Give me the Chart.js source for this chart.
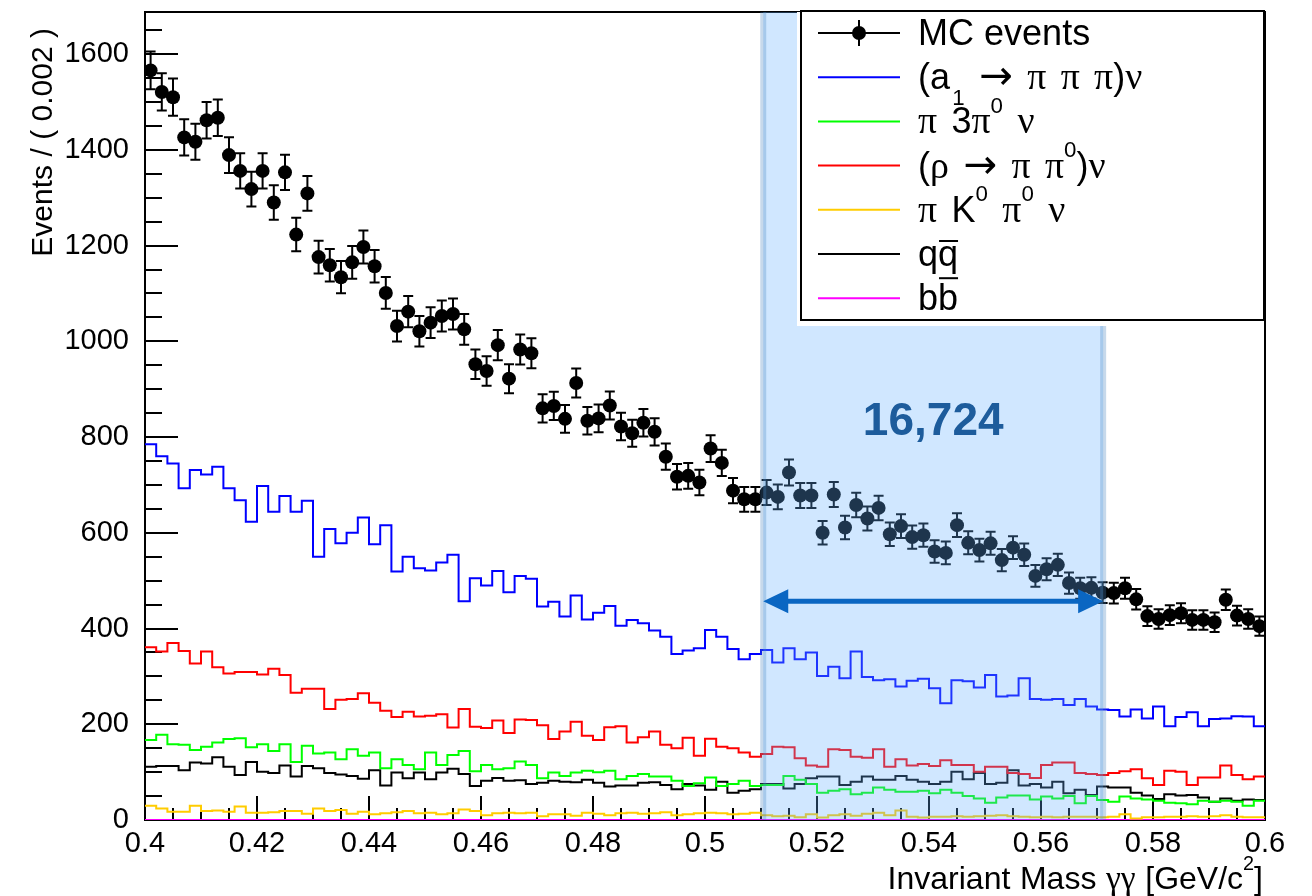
<!DOCTYPE html>
<html>
<head>
<meta charset="utf-8">
<title>Invariant Mass</title>
<script src="https://cdn.jsdelivr.net/npm/chart.js@4.4.0/dist/chart.umd.min.js"></script>
<style>
  html, body { margin: 0; padding: 0; background: #fff; }
</style>
</head>
<body>
<canvas id="massChart" width="1312" height="896"></canvas>
<script>
// Binning: 100 bins of 0.002 GeV/c^2 from 0.4 to 0.6
var xMin = 0.4;
var xMax = 0.6;
var binWidth = 0.002;
var nBins = 100;
var binEdges = [];
for (var i = 0; i <= nBins; i++) binEdges.push(+(xMin + i * binWidth).toFixed(3));

// MC events per bin
var mcEvents = [
    1566, 1521, 1510, 1426, 1417, 1462, 1467, 1389, 1356, 1318, 1356, 1290, 1353, 1223, 1309, 1176, 1159, 1134, 1165, 1197,
    1157, 1101, 1032, 1062, 1021, 1039, 1053, 1057, 1025, 952, 938, 992, 922, 983, 975, 860, 865, 838, 913, 834,
    839, 866, 822, 808, 830, 811, 759, 717, 719, 705, 776, 746, 688, 670, 670, 684, 675, 726, 678, 678,
    600, 680, 611, 658, 630, 652, 597, 614, 591, 595, 561, 558, 616, 579, 564, 578, 543, 569, 554, 510,
    524, 533, 495, 484, 485, 475, 474, 484, 461, 426, 420, 428, 432, 418, 418, 413, 460, 427, 420, 405
];

// (a1 -> pi pi pi) nu
var a1Hist = [
    785, 760, 745, 693, 731, 722, 738, 693, 668, 623, 698, 644, 677, 644, 667, 550, 608, 578, 600, 632,
    576, 616, 519, 550, 526, 521, 538, 554, 457, 505, 490, 520, 476, 510, 504, 446, 456, 425, 469, 419,
    433, 447, 406, 418, 411, 396, 383, 347, 354, 359, 397, 383, 357, 336, 347, 355, 329, 359, 336, 350,
    301, 320, 296, 352, 299, 292, 294, 279, 291, 295, 275, 244, 292, 290, 277, 303, 258, 260, 296, 253,
    251, 253, 240, 253, 237, 231, 230, 216, 231, 212, 237, 196, 215, 225, 196, 211, 212, 217, 216, 196
];

// pi 3pi0 nu
var pi3pi0Hist = [
    167, 178, 158, 157, 146, 153, 162, 169, 171, 152, 158, 144, 158, 121, 155, 139, 141, 127, 148, 134,
    141, 108, 127, 115, 106, 141, 115, 136, 144, 102, 115, 106, 108, 122, 115, 87, 99, 92, 99, 103,
    100, 103, 85, 92, 96, 91, 91, 82, 71, 77, 89, 71, 75, 82, 71, 73, 73, 92, 84, 75,
    57, 61, 64, 54, 57, 68, 63, 59, 59, 61, 56, 63, 57, 50, 45, 36, 47, 51, 51, 43,
    49, 45, 50, 35, 50, 42, 38, 49, 45, 43, 40, 36, 35, 33, 40, 38, 40, 38, 30, 40
];

// (rho -> pi pi0) nu
var rhoHist = [
    361, 352, 370, 353, 327, 352, 319, 306, 309, 309, 304, 316, 303, 266, 274, 274, 232, 251, 253, 265,
    245, 228, 215, 226, 216, 218, 221, 193, 232, 195, 192, 208, 182, 210, 209, 198, 169, 185, 205, 176,
    167, 194, 196, 162, 173, 185, 157, 150, 172, 134, 170, 153, 150, 141, 132, 138, 153, 152, 129, 114,
    111, 148, 146, 132, 130, 148, 111, 127, 114, 117, 113, 125, 115, 115, 101, 111, 111, 98, 96, 88,
    115, 120, 120, 98, 96, 94, 98, 102, 106, 87, 73, 103, 101, 73, 89, 89, 114, 94, 85, 91
];

// pi K0 pi0 nu
var kaonHist = [
    30, 24, 17, 17, 30, 19, 20, 17, 28, 15, 15, 16, 19, 19, 13, 24, 19, 21, 13, 17,
    12, 14, 16, 19, 14, 15, 12, 14, 22, 19, 10, 14, 15, 14, 15, 8, 12, 12, 9, 15,
    13, 10, 14, 15, 13, 14, 16, 10, 12, 14, 15, 14, 12, 13, 15, 10, 8, 9, 6, 12,
    5, 10, 12, 9, 13, 15, 10, 20, 7, 5, 7, 7, 8, 7, 8, 9, 10, 8, 7, 6,
    7, 6, 7, 7, 7, 6, 7, 12, 3, 6, 6, 7, 7, 8, 7, 8, 10, 7, 6, 6
];

// q qbar continuum
var qqbarHist = [
    111, 113, 113, 104, 120, 118, 131, 111, 94, 121, 101, 98, 114, 91, 113, 108, 98, 95, 92, 86,
    104, 72, 99, 87, 99, 85, 99, 107, 96, 71, 82, 88, 82, 83, 75, 78, 82, 80, 79, 84,
    78, 70, 72, 72, 78, 79, 73, 64, 75, 72, 63, 80, 57, 61, 64, 75, 75, 66, 75, 87,
    91, 91, 73, 80, 91, 84, 84, 92, 84, 80, 75, 80, 101, 85, 98, 75, 78, 104, 72, 75,
    68, 80, 56, 63, 52, 70, 68, 68, 57, 51, 44, 54, 51, 52, 47, 38, 45, 40, 43, 42
];

// b bbar
var bbbarHist = [
    0, 0, 0, 0, 0, 0, 0, 0, 0, 0, 0, 0, 0, 0, 0, 0, 0, 0, 0, 0,
    0, 0, 0, 0, 0, 0, 0, 0, 0, 0, 0, 0, 0, 0, 0, 0, 0, 0, 0, 0,
    0, 0, 0, 0, 0, 0, 0, 0, 0, 0, 0, 0, 0, 0, 0, 0, 0, 0, 0, 0,
    0, 0, 0, 0, 0, 0, 0, 0, 0, 0, 0, 0, 0, 0, 0, 0, 0, 0, 0, 0,
    0, 0, 0, 0, 0, 0, 0, 0, 0, 0, 0, 0, 0, 0, 0, 0, 0, 0, 0, 0
];

// Legend entries (TLatex-like markup)
var legendLabels = [
    "MC events",
    "(a_{1} #rightarrow #pi #pi #pi)#nu",
    "#pi 3#pi^{0} #nu",
    "(#rho #rightarrow #pi #pi^{0})#nu",
    "#pi K^{0} #pi^{0} #nu",
    "q#bar{q}",
    "b#bar{b}"
];
var histColors = ["#0000ff", "#00ff00", "#ff0000", "#ffcc00", "#000000", "#ff00ff"];

// Highlighted mass window and its count
var windowRange = [0.5104, 0.5711];
var windowCount = "16,724";
var windowArrowY = 457;
var windowTextY = 830;

var yTicks = { min: 0, max: 1688, step: 200 };
var xTitle = "Invariant Mass #gamma#gamma [GeV/c^{2}]";
var yTitle = "Events / ( 0.002 )";

var SANS = '"Liberation Sans", Arial, Helvetica, sans-serif';
var SERIF = '"Liberation Serif", "DejaVu Serif", serif';
var ARROW = '"DejaVu Sans", sans-serif';
var GREEK = /[\u03b3\u03c0\u03bd\u03c1]/;

// Histogram as step line: one point per lower edge plus the upper edge
function histPoints(values) {
    var pts = values.map(function (v, i) { return { x: binEdges[i], y: v }; });
    pts.push({ x: binEdges[nBins], y: values[nBins - 1] });
    return pts;
}

// very small TLatex subset: ^{}, _{}, #bar{}, greek letters
var latexSymbols = { "#rightarrow": "\u2192", "#gamma": "\u03b3", "#pi": "\u03c0", "#nu": "\u03bd", "#rho": "\u03c1" };
function parseLatex(s) {
    Object.keys(latexSymbols).forEach(function (k) { s = s.split(k).join(latexSymbols[k]); });
    var out = [], re = /\^\{([^}]*)\}|_\{([^}]*)\}|#bar\{([^}]*)\}/g, last = 0, m;
    while ((m = re.exec(s))) {
        if (m.index > last) out.push({ text: s.slice(last, m.index), mode: "" });
        if (m[1] !== undefined) out.push({ text: m[1], mode: "sup" });
        else if (m[2] !== undefined) out.push({ text: m[2], mode: "sub" });
        else out.push({ text: m[3], mode: "bar" });
        last = re.lastIndex;
    }
    if (last < s.length) out.push({ text: s.slice(last), mode: "" });
    return out;
}

function drawLatex(ctx, s, x, y, size, align, spacing) {
    var runs = [];
    spacing = spacing || 0.34;
    parseLatex(s).forEach(function (p) {
        var small = p.mode === "sup" || p.mode === "sub";
        var sz = small ? size * 0.62 : size;
        var dy = p.mode === "sup" ? -size * 0.58 : (p.mode === "sub" ? size * 0.45 : 0);
        if (p.mode === "sub") runs.push({ t: "", space: size * 0.06, dy: 0 });
        p.text.split(/([\u03b3\u03c0\u03bd\u03c1]+|\u2192| )/).forEach(function (t) {
            if (!t) return;
            if (t === " ") { runs.push({ t: "", space: sz * spacing, dy: dy }); return; }
            var isArrow = t === "\u2192";
            var fam = isArrow ? ARROW : (GREEK.test(t) ? SERIF : SANS);
            var fs = isArrow ? sz * 1.12 : (GREEK.test(t) ? sz * 1.05 : sz);
            runs.push({ t: t, font: fs + "px " + fam, dy: dy, bar: p.mode === "bar" });
        });
    });
    var total = 0;
    runs.forEach(function (r) {
        if (r.space) { r.w = r.space; total += r.w; return; }
        ctx.font = r.font;
        var m = ctx.measureText(r.t);
        r.w = m.width;
        r.asc = m.actualBoundingBoxAscent;
        total += r.w;
    });
    var cx = align === "right" ? x - total : x;
    ctx.textAlign = "left";
    ctx.textBaseline = "alphabetic";
    runs.forEach(function (r) {
        if (!r.space) {
            ctx.font = r.font;
            ctx.fillText(r.t, cx, y + r.dy);
            if (r.bar) ctx.fillRect(cx + 1, y - r.asc - 6, r.w - 1, 2);
        }
        cx += r.w;
    });
}

// Frame and inward ticks, ROOT style
var frameTicks = {
    id: "frameTicks",
    beforeDatasetsDraw: function (chart) {
        var ctx = chart.ctx, a = chart.chartArea;
        var xs = chart.scales.x, ys = chart.scales.y;
        ctx.save();
        ctx.strokeStyle = "#000";
        ctx.lineWidth = 2;
        ctx.beginPath();
        for (var k = 0; k <= 40; k++) {
            var v = xMin + k * 0.005;
            var px = Math.round(xs.getPixelForValue(v));
            var len = k % 4 === 0 ? 24 : 12;
            ctx.moveTo(px, a.bottom);
            ctx.lineTo(px, a.bottom - len);
        }
        for (var j = 0; j * 50 <= yTicks.max; j++) {
            var py = Math.round(ys.getPixelForValue(j * 50));
            var l = j % 4 === 0 ? 33 : 17;
            ctx.moveTo(a.left, py);
            ctx.lineTo(a.left + l, py);
        }
        ctx.stroke();
        ctx.strokeRect(a.left, a.top, a.right - a.left, a.bottom - a.top);
        ctx.restore();
    }
};

// Vertical error bars on the MC points
var errorBars = {
    id: "errorBars",
    afterDatasetDraw: function (chart, args) {
        if (args.index !== 0) return;
        var ctx = chart.ctx, ys = chart.scales.y;
        ctx.save();
        ctx.strokeStyle = "#000";
        ctx.lineWidth = 2;
        args.meta.data.forEach(function (pt, i) {
            var v = mcEvents[i], e = Math.sqrt(v);
            var y1 = ys.getPixelForValue(v + e), y2 = ys.getPixelForValue(v - e);
            ctx.beginPath();
            ctx.moveTo(pt.x, y1); ctx.lineTo(pt.x, y2);
            ctx.moveTo(pt.x - 5, y1); ctx.lineTo(pt.x + 5, y1);
            ctx.moveTo(pt.x - 5, y2); ctx.lineTo(pt.x + 5, y2);
            ctx.stroke();
        });
        ctx.restore();
    }
};

// Shaded window, arrow, count, legend and axis titles
var overlay = {
    id: "overlay",
    afterDatasetsDraw: function (chart) {
        var ctx = chart.ctx, a = chart.chartArea;
        var xs = chart.scales.x, ys = chart.scales.y;
        var xl = xs.getPixelForValue(windowRange[0]);
        var xr = xs.getPixelForValue(windowRange[1]);
        ctx.save();
        ctx.fillStyle = "rgba(100, 175, 255, 0.3)";
        ctx.fillRect(xl, a.top, xr - xl, a.bottom - a.top);
        ctx.fillStyle = "rgba(70, 130, 190, 0.3)";
        ctx.fillRect(xl - 3, a.top, 6, a.bottom - a.top);
        ctx.fillRect(xr - 3, a.top, 6, a.bottom - a.top);

        // double arrow
        var ay = ys.getPixelForValue(windowArrowY);
        ctx.strokeStyle = "#0a66c2";
        ctx.fillStyle = "#0a66c2";
        ctx.lineWidth = 5;
        ctx.beginPath();
        ctx.moveTo(xl + 20, ay); ctx.lineTo(xr - 20, ay);
        ctx.stroke();
        ctx.beginPath();
        ctx.moveTo(xl, ay); ctx.lineTo(xl + 25, ay - 12); ctx.lineTo(xl + 25, ay + 12); ctx.closePath();
        ctx.moveTo(xr, ay); ctx.lineTo(xr - 25, ay - 12); ctx.lineTo(xr - 25, ay + 12); ctx.closePath();
        ctx.fill();

        ctx.fillStyle = "#1d5c9c";
        ctx.font = "bold 46px " + SANS;
        ctx.textAlign = "center";
        ctx.textBaseline = "middle";
        ctx.fillText(windowCount, (xl + xr) / 2, ys.getPixelForValue(windowTextY));

        // legend box
        var lx = 801, ly = 11, lw = 463, lh = 309;
        ctx.fillStyle = "#fff";
        ctx.fillRect(lx - 4, a.top, lw + 4, lh + 5);
        ctx.strokeStyle = "#000";
        ctx.lineWidth = 2;
        ctx.strokeRect(lx, ly, lw, lh);
        legendLabels.forEach(function (txt, k) {
            var cy = 33 + k * 44.2;
            ctx.lineWidth = 2;
            ctx.strokeStyle = k === 0 ? "#000" : histColors[k - 1];
            ctx.beginPath();
            ctx.moveTo(818, cy); ctx.lineTo(900, cy);
            if (k === 0) { ctx.moveTo(859, cy - 13); ctx.lineTo(859, cy + 13); }
            ctx.stroke();
            if (k === 0) {
                ctx.fillStyle = "#000";
                ctx.beginPath(); ctx.arc(859, cy, 7, 0, Math.PI * 2); ctx.fill();
            }
            ctx.fillStyle = "#000";
            drawLatex(ctx, txt, 918, cy + 12, 36, "left", k === 0 ? 0.28 : 0.4);
        });
        ctx.restore();
    },
    afterDraw: function (chart) {
        var ctx = chart.ctx, a = chart.chartArea;
        ctx.save();
        ctx.fillStyle = "#000";
        drawLatex(ctx, xTitle, a.right - 2, 889, 32, "right", 0.3);
        ctx.translate(52, 28);
        ctx.rotate(-Math.PI / 2);
        drawLatex(ctx, yTitle, 0, 0, 30, "right", 0.28);
        ctx.restore();
    }
};

var datasets = [{
    label: legendLabels[0],
    data: mcEvents.map(function (v, i) { return { x: (binEdges[i] + binEdges[i + 1]) / 2, y: v }; }),
    showLine: false,
    pointRadius: 7,
    pointBackgroundColor: "#000",
    pointBorderColor: "#000",
    pointBorderWidth: 0
}];
[a1Hist, pi3pi0Hist, rhoHist, kaonHist, qqbarHist, bbbarHist].forEach(function (h, k) {
    datasets.push({
        label: legendLabels[k + 1],
        data: histPoints(h),
        stepped: "before",
        borderColor: histColors[k],
        borderWidth: 2,
        pointRadius: 0,
        fill: false
    });
});

var tickFont = { family: SANS, size: 29 };
var massChart = new Chart(document.getElementById("massChart").getContext("2d"), {
    type: "line",
    data: { datasets: datasets },
    options: {
        responsive: false,
        animation: false,
        devicePixelRatio: 1,
        layout: { padding: { top: 12, right: 47, left: 0, bottom: 0 } },
        plugins: { legend: { display: false }, tooltip: { enabled: false } },
        scales: {
            x: {
                type: "linear",
                min: xMin,
                max: xMax,
                grid: { display: false, drawTicks: false },
                border: { display: false },
                ticks: {
                    stepSize: 0.02,
                    autoSkip: false,
                    maxRotation: 0,
                    padding: 7,
                    color: "#000",
                    font: tickFont,
                    callback: function (v) { return String(+v.toFixed(3)); }
                },
                afterFit: function (s) {
                    s.height = 76;
                    s.paddingLeft = 0;
                    s.paddingRight = 0;
                }
            },
            y: {
                min: yTicks.min,
                max: yTicks.max,
                grid: { display: false, drawTicks: false },
                border: { display: false },
                ticks: {
                    stepSize: yTicks.step,
                    includeBounds: false,
                    padding: 16,
                    color: "#000",
                    font: tickFont,
                    callback: function (v) { return String(v); }
                },
                afterFit: function (s) {
                    s.width = 145;
                    s.paddingTop = 0;
                    s.paddingBottom = 0;
                }
            }
        }
    },
    plugins: [frameTicks, errorBars, overlay]
});
</script>
</body>
</html>
